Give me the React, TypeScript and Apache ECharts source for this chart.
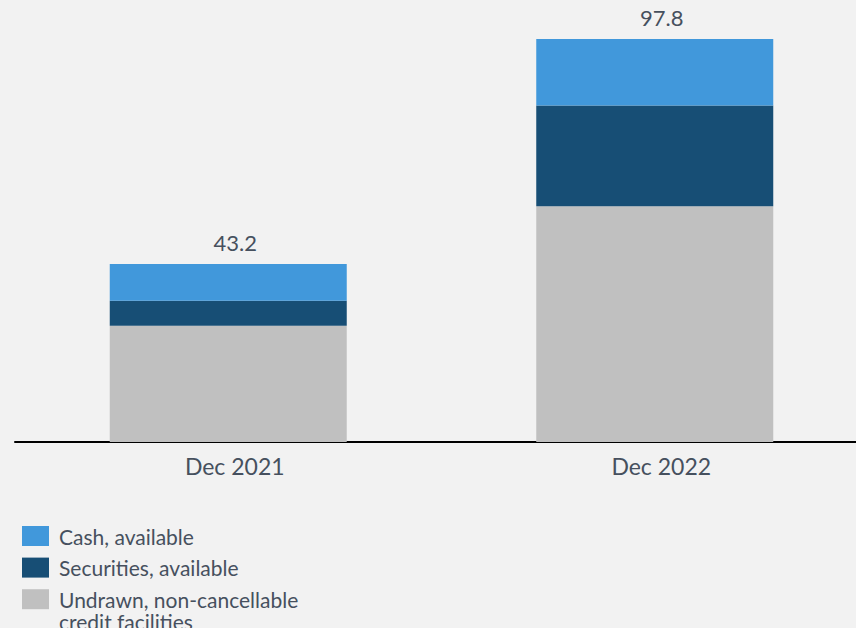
import React, { useEffect, useRef } from "react";
import * as echarts from "echarts";

const categories = ["Dec 2021", "Dec 2022"];
const undrawn = [28.2, 57.2];
const securities = [6.1, 24.5];
const cash = [8.9, 16.1];
const totals = [43.2, 97.8];
const seriesNames = ["Cash, available", "Securities, available", "Undrawn, non-cancellable\ncredit facilities"];
const seriesColors = ["#4198db", "#174e75", "#c0c0c0"];

const TEXT = "#46505e";
const FONT = "Lato";

export default function App() {
  const ref = useRef<HTMLDivElement>(null);
  useEffect(() => {
    const chart = echarts.init(ref.current!, null, { renderer: "svg" });
    const legendGraphics: any[] = [];
    seriesNames.forEach((name, i) => {
      const top = 526 + i * 31.6;
      legendGraphics.push({
        type: "rect",
        shape: { x: 22, y: top, width: 27, height: 20 },
        style: { fill: seriesColors[i] },
        silent: true,
      });
      legendGraphics.push({
        type: "text",
        x: 59,
        y: top + 10 - 11,
        style: {
          text: name,
          fill: TEXT,
          fontFamily: FONT,
          fontSize: 21,
          lineHeight: 22,
          align: "left",
          verticalAlign: "top",
        },
        silent: true,
      });
    });
    chart.setOption({
      animation: false,
      backgroundColor: "#f2f2f2",
      textStyle: { fontFamily: FONT, color: TEXT },
      grid: { left: 15, top: 30, width: 853, bottom: 186, containLabel: false, outerBoundsMode: "none" },
      xAxis: {
        type: "category",
        data: categories,
        axisLine: { lineStyle: { color: "#000", width: 2 } },
        axisTick: { show: false },
        axisLabel: { color: TEXT, fontSize: 23, fontFamily: FONT, margin: 12, padding: [0, 0, 0, 13] },
      },
      yAxis: { type: "value", min: 0, max: 100, show: false, splitLine: { show: false } },
      graphic: legendGraphics,
      series: [
        {
          name: seriesNames[2],
          type: "bar",
          stack: "total",
          barWidth: 237,
          data: undrawn,
          itemStyle: { color: seriesColors[2] },
        },
        {
          name: seriesNames[1],
          type: "bar",
          stack: "total",
          barWidth: 237,
          data: securities,
          itemStyle: { color: seriesColors[1] },
        },
        {
          name: seriesNames[0],
          type: "bar",
          stack: "total",
          barWidth: 237,
          data: cash,
          itemStyle: { color: seriesColors[0] },
          label: {
            show: true,
            position: "top",
            distance: 11,
            offset: [7, 0],
            color: TEXT,
            fontSize: 22,
            fontFamily: FONT,
            formatter: (p: any) => totals[p.dataIndex].toFixed(1),
          },
        },
      ],
    });
    return () => chart.dispose();
  }, []);
  return (
    <div
      ref={ref}
      style={{ position: "fixed", left: 0, top: 0, width: 856, height: 628 }}
    />
  );
}
